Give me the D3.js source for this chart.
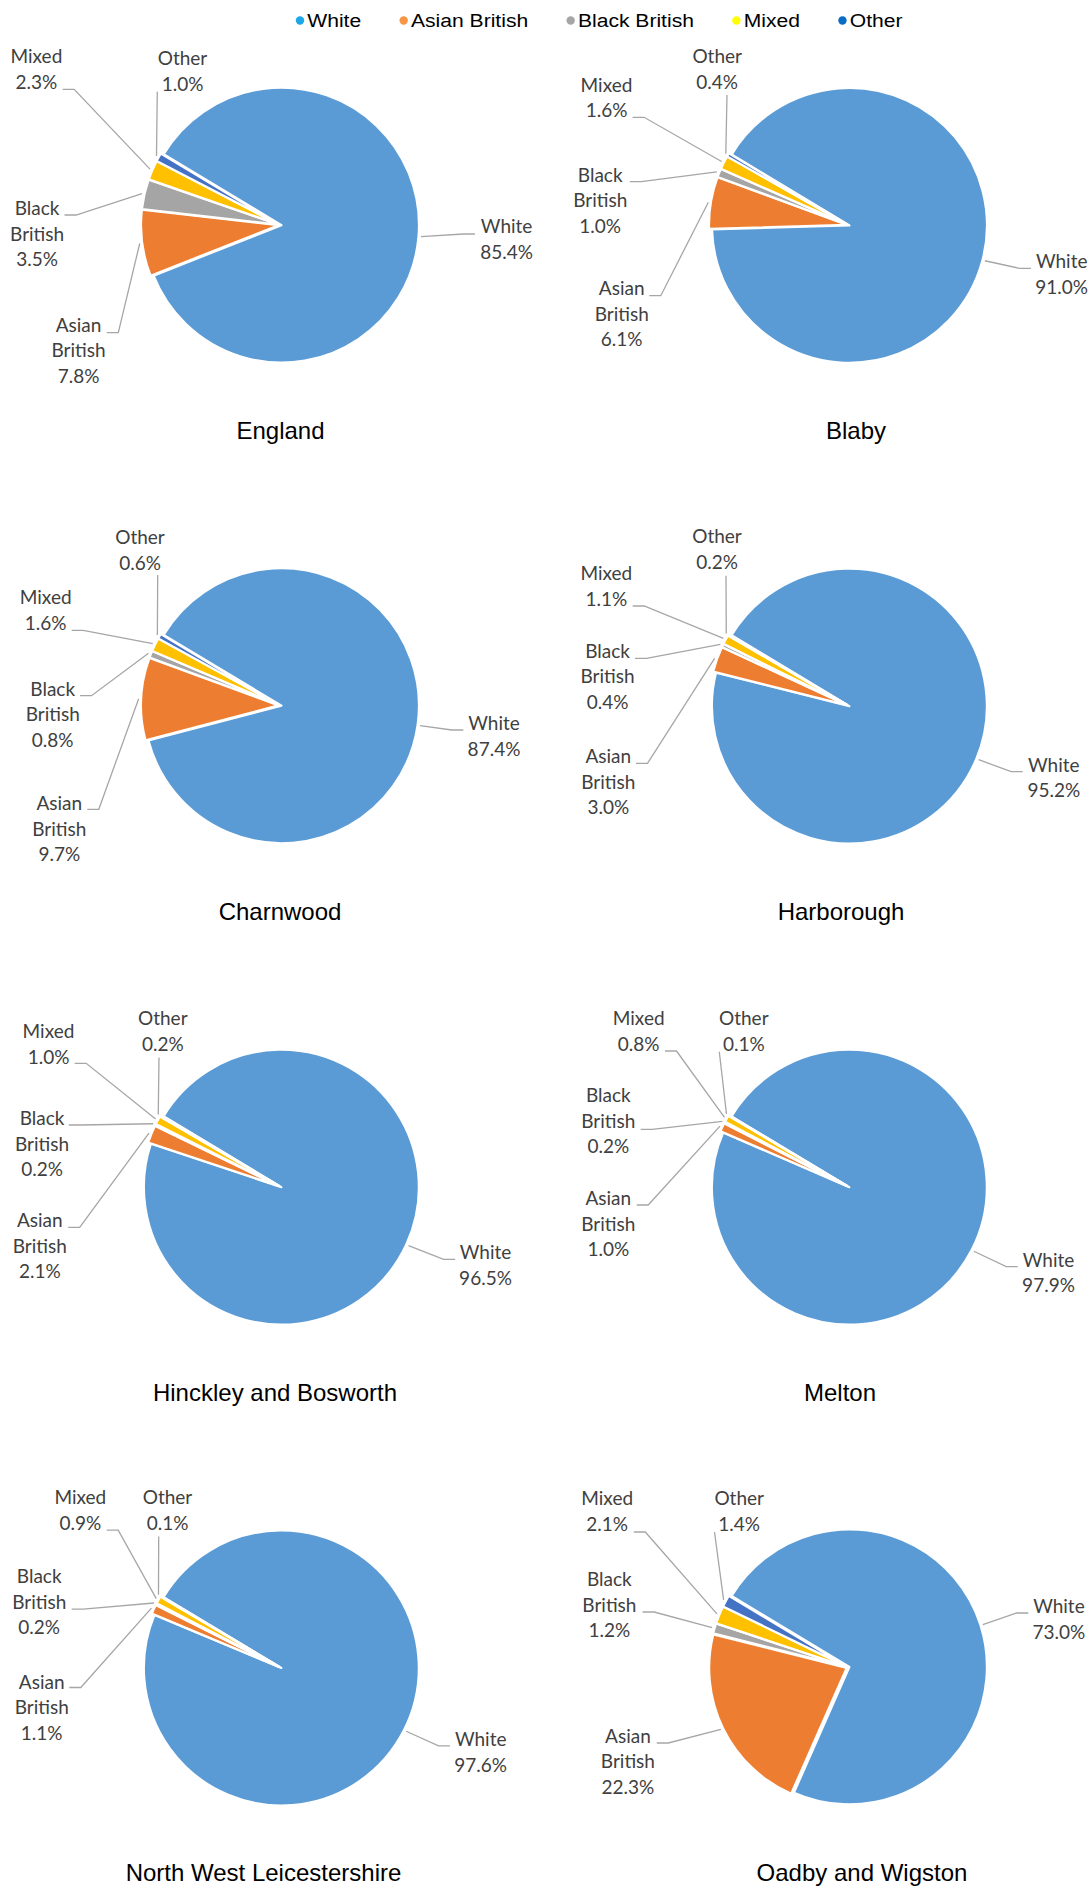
<!DOCTYPE html>
<html>
<head>
<meta charset="utf-8">
<script src="https://cdn.jsdelivr.net/npm/d3@7"></script>
<style>
  html, body { margin: 0; padding: 0; background: #fff; }
  svg { display: block; }
</style>
</head>
<body>
<div id="chart"></div>
<script>
// ---------------- DATA ----------------
const categories = ["White", "Asian British", "Black British", "Mixed", "Other"];
const areas = ["England", "Blaby", "Charnwood", "Harborough",
               "Hinckley and Bosworth", "Melton", "North West Leicestershire", "Oadby and Wigston"];
const whiteValues  = [85.4, 91.0, 87.4, 95.2, 96.5, 97.9, 97.6, 73.0];
const asianValues  = [7.8, 6.1, 9.7, 3.0, 2.1, 1.0, 1.1, 22.3];
const blackValues  = [3.5, 1.0, 0.8, 0.4, 0.2, 0.2, 0.2, 1.2];
const mixedValues  = [2.3, 1.6, 1.6, 1.1, 1.0, 0.8, 0.9, 2.1];
const otherValues  = [1.0, 0.4, 0.6, 0.2, 0.2, 0.1, 0.1, 1.4];
const seriesValues = [whiteValues, asianValues, blackValues, mixedValues, otherValues];

// ---------------- STYLE / LAYOUT ----------------
const W = 1092, H = 1890;
const pieColors    = ["#5B9BD5", "#ED7D31", "#A5A5A5", "#FFC000", "#4472C4"];
const legendColors = ["#1CA8E8", "#F79646", "#A6A6A6", "#FFFF00", "#0A6CC4"];
const R = 137.5;
const EXPLODE = 1.5;
const START = 301 * Math.PI / 180;
const colX = [280, 848];
const rowY = [225, 705.5, 1186.5, 1667.3];
const LINE_H = 25.5;
const labelFont = "Lato, 'Open Sans', sans-serif";
const titleFont = "'Liberation Sans', Arial, sans-serif";

// label layout per chart, per category: [textCenterDx, firstBaselineDy, attachDx, attachDy, mode]
const labelLayout = {
  "England": [[226.6, 8.3, 194.9, 9.0, "h"], [-201.5, 106.7, -173.2, 107.7, "h"], [-242.9, -10, -215.5, -10, "h"], [-243.6, -161.7, -217.3, -135.7, "h"], [-97.5, -159.8, -122.7, -133.3, "v"]],
  "Blaby": [[213.7, 43.3, 182.9, 43.3, "h"], [-226.3, 70, -198.7, 70.7, "h"], [-247.8, -43.3, -218.2, -43.3, "h"], [-241.5, -133.3, -215.4, -107.7, "h"], [-130.8, -161.7, -121, -130, "v"]],
  "Charnwood": [[214, 24.5, 183.3, 24.5, "h"], [-220.7, 104.5, -192.7, 103.8, "h"], [-227.3, -9.8, -200, -9.8, "h"], [-234.3, -101.5, -208.3, -75.2, "h"], [-140, -161.2, -122.3, -130.5, "v"]],
  "Harborough": [[205.8, 66.2, 174.7, 66.2, "h"], [-239.7, 57.8, -212, 57.8, "h"], [-240.5, -47.8, -213, -47.2, "h"], [-241.7, -125.5, -215.3, -99.5, "h"], [-131, -162.2, -122, -129.8, "v"]],
  "Hinckley and Bosworth": [[205.5, 72.8, 175.1, 72.8, "h"], [-240.2, 40.8, -211.8, 40.8, "h"], [-238, -61.5, -211.1, -61.5, "h"], [-231.5, -148.2, -205.3, -123.2, "h"], [-117.2, -161.5, -121, -129, "v"]],
  "Melton": [[200.5, 80.2, 169.7, 80.2, "h"], [-239.7, 18.5, -211.3, 18.5, "h"], [-239.7, -84.2, -207.3, -57.2, "h"], [-209.3, -161.5, -183, -135.5, "h"], [-104.2, -161.5, -128.7, -134.8, "v"]],
  "North West Leicestershire": [[200.7, 79.2, 170, 78.5, "h"], [-238.3, 21.5, -210.7, 20.2, "h"], [-240.8, -84.2, -208.3, -58.2, "h"], [-199.7, -163.2, -173.3, -137.2, "h"], [-112.5, -163.2, -121.3, -130.8, "v"]],
  "Oadby and Wigston": [[210.9, -54.3, 180.3, -54.3, "h"], [-220.1, 75.7, -191.2, 75.7, "h"], [-238.6, -81, -205.4, -55.3, "h"], [-240.8, -162, -214.2, -135.3, "h"], [-108.8, -162, -133.5, -135.3, "v"]]
};
const titleDx = [0.5, 8, 0, -7, -5, -8, -16.5, 14];
const TITLE_DY = 214;
const LEGEND_STRETCH = 1.11;

// ---------------- DRAW ----------------
const svg = d3.select("#chart").append("svg").attr("width", W).attr("height", H);
svg.append("rect").attr("width", W).attr("height", H).attr("fill", "#fff");

const color = d3.scaleOrdinal().domain(categories).range(pieColors);
const legendColor = d3.scaleOrdinal().domain(categories).range(legendColors);

const pie = d3.pie().sort(null).value(d => d.value)
  .startAngle(START).endAngle(START + 2 * Math.PI);
const arc = d3.arc().innerRadius(0).outerRadius(R);

areas.forEach((area, i) => {
  const cx = colX[i % 2], cy = rowY[Math.floor(i / 2)];
  const data = categories.map((c, k) => ({ cat: c, value: seriesValues[k][i] }));
  const arcs = pie(data);
  const g = svg.append("g").attr("transform", `translate(${cx},${cy})`);

  g.selectAll("path.slice").data(arcs).join("path")
    .attr("class", "slice")
    .attr("d", arc)
    .attr("fill", d => color(d.data.cat))
    .attr("stroke", "#fff")
    .attr("stroke-width", 2.2)
    .attr("stroke-linejoin", "round")
    .attr("transform", d => {
      const m = (d.startAngle + d.endAngle) / 2;
      return `translate(${Math.sin(m) * EXPLODE},${-Math.cos(m) * EXPLODE})`;
    });

  const layout = labelLayout[area];
  arcs.forEach((d, k) => {
    const [tdx, tdy, ax, ay, mode] = layout[k];
    const m = (d.startAngle + d.endAngle) / 2;
    const rr = R + EXPLODE + 2.5;
    const px = Math.sin(m) * rr, py = -Math.cos(m) * rr;
    let pts;
    if (mode === "h") {
      const ex = ax < px ? ax + 11.5 : ax - 11.5;
      pts = [[px, py], [ex, ay], [ax, ay]];
    } else {
      pts = [[px, py], [ax, ay]];
    }
    g.append("path")
      .attr("d", d3.line()(pts))
      .attr("fill", "none")
      .attr("stroke", "#A6A6A6")
      .attr("stroke-width", 1.3);

    const lines = d.data.cat.split(" ").concat([d3.format(".1f")(d.data.value) + "%"]);
    const t = g.append("text")
      .attr("x", tdx).attr("y", tdy)
      .attr("text-anchor", "middle")
      .attr("font-family", labelFont)
      .attr("font-size", 19)
      .attr("fill", "#404040");
    lines.forEach((ln, j) => {
      t.append("tspan").attr("x", tdx).attr("y", tdy + j * LINE_H).text(ln);
    });
  });

  svg.append("text")
    .attr("x", cx + titleDx[i]).attr("y", cy + TITLE_DY)
    .attr("text-anchor", "middle")
    .attr("font-family", titleFont)
    .attr("font-size", 24)
    .attr("fill", "#000")
    .text(area);
});

// legend
const legend = svg.append("g");
let lx = 300;
categories.forEach(c => {
  legend.append("circle").attr("cx", lx).attr("cy", 20.5).attr("r", 4.2).attr("fill", legendColor(c));
  const t = legend.append("text")
    .attr("transform", `translate(${lx + 7.3},26.7) scale(${LEGEND_STRETCH},1)`)
    .attr("font-family", titleFont)
    .attr("font-size", 19)
    .attr("fill", "#000")
    .text(c);
  const w = t.node().getComputedTextLength() * LEGEND_STRETCH;
  lx = lx + 7.3 + w + 42.5;
});
</script>
</body>
</html>
